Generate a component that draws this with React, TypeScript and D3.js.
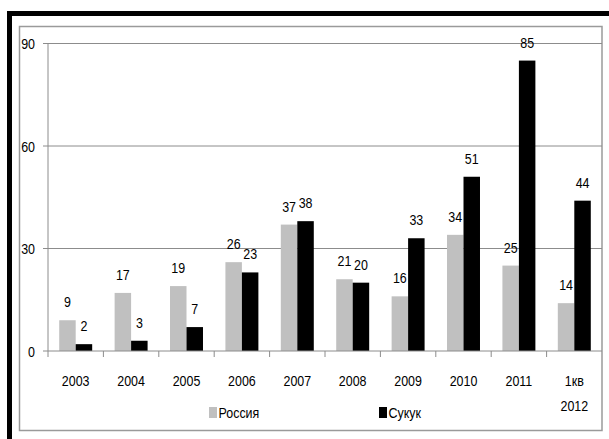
import React, { useEffect, useRef } from 'react';
import * as d3 from 'd3';

const categories = ['2003', '2004', '2005', '2006', '2007', '2008', '2009', '2010', '2011', '1кв 2012'];
const russia = [9, 17, 19, 26, 37, 21, 16, 34, 25, 14];
const sukuk = [2, 3, 7, 23, 38, 20, 33, 51, 85, 44];
const seriesNames = ['Россия', 'Сукук'];
const yTicks = [0, 30, 60, 90];

const FONT = '"Liberation Sans", Arial, sans-serif';
const SQUEEZE = 0.83; // the original uses a narrow face

const App = () => {
  const ref = useRef(null);

  useEffect(() => {
    const svg = d3.select(ref.current);
    svg.selectAll('*').remove();

    const left = 48, right = 602, top = 43.5, bottom = 351;

    // narrow-looking text: scale horizontally around its anchor point
    const label = (g, x, y, str, anchor = 'middle') =>
      g.append('text')
        .attr('transform', `translate(${x},${y}) scale(${SQUEEZE},1)`)
        .attr('text-anchor', anchor)
        .attr('font-family', FONT).attr('font-size', 15)
        .attr('fill', '#000')
        .text(str);

    // frame: thick black top/left, thin gray box
    svg.append('rect').attr('x', 7).attr('y', 11).attr('width', 602).attr('height', 5).attr('fill', '#000');
    svg.append('rect').attr('x', 7).attr('y', 11).attr('width', 5).attr('height', 428).attr('fill', '#000');
    svg.append('rect')
      .attr('x', 19.5).attr('y', 26.5).attr('width', 582.5).attr('height', 404)
      .attr('fill', 'none').attr('stroke', '#9a9a9a').attr('stroke-width', 1.5);

    const x = d3.scaleBand().domain(categories).range([left, right]);
    const xs = d3.scaleBand().domain(seriesNames).range([0, x.bandwidth()]).paddingOuter(0.68).paddingInner(0);
    const y = d3.scaleLinear().domain([0, 90]).range([bottom, top]);

    // gridlines + y ticks
    svg.append('g').selectAll('line').data(yTicks.filter(d => d > 0)).enter().append('line')
      .attr('x1', left - 5).attr('x2', right)
      .attr('y1', d => y(d)).attr('y2', d => y(d))
      .attr('stroke', '#8c8c8c').attr('stroke-width', 1);
    svg.append('line').attr('x1', left).attr('x2', left).attr('y1', top).attr('y2', bottom)
      .attr('stroke', '#8c8c8c');
    svg.append('line').attr('x1', left - 5).attr('x2', left).attr('y1', bottom).attr('y2', bottom)
      .attr('stroke', '#8c8c8c');
    const yl = svg.append('g');
    yTicks.forEach(t => label(yl, 35, y(t) + 5.5, t, 'end'));

    const series = [russia, sukuk];
    const colors = ['#c0c0c0', '#000000'];

    // bars
    series.forEach((vals, si) => {
      svg.append('g').selectAll('rect').data(vals).enter().append('rect')
        .attr('x', (d, i) => x(categories[i]) + xs(seriesNames[si]))
        .attr('width', xs.bandwidth())
        .attr('y', d => y(d))
        .attr('height', d => y(0) - y(d))
        .attr('fill', colors[si]);
    });

    // value labels
    const vl = svg.append('g');
    series.forEach((vals, si) => {
      vals.forEach((v, i) => {
        label(vl, x(categories[i]) + xs(seriesNames[si]) + xs.bandwidth() / 2, y(v) - 13, v);
      });
    });

    // x axis
    svg.append('line').attr('x1', left).attr('x2', right).attr('y1', bottom).attr('y2', bottom)
      .attr('stroke', '#8c8c8c');
    svg.append('g').selectAll('line').data(categories).enter().append('line')
      .attr('x1', d => x(d)).attr('x2', d => x(d))
      .attr('y1', bottom).attr('y2', bottom + 6)
      .attr('stroke', '#8c8c8c');

    const xl = svg.append('g');
    categories.forEach(c => {
      c.split(' ').forEach((p, k) => label(xl, x(c) + x.bandwidth() / 2, 386 + k * 25, p));
    });

    // legend
    const legend = [{ name: seriesNames[0], x: 209, c: colors[0] }, { name: seriesNames[1], x: 379, c: colors[1] }];
    const lg = svg.append('g');
    legend.forEach(l => {
      lg.append('rect').attr('x', l.x).attr('y', 407).attr('width', 8).attr('height', 11).attr('fill', l.c);
      label(lg, l.x + 9.5, 418, l.name, 'start');
    });
  }, []);

  return (
    <svg ref={ref} width={609} height={439}
      style={{ position: 'absolute', left: 0, top: 0, background: '#fff' }} />
  );
};

export default App;
